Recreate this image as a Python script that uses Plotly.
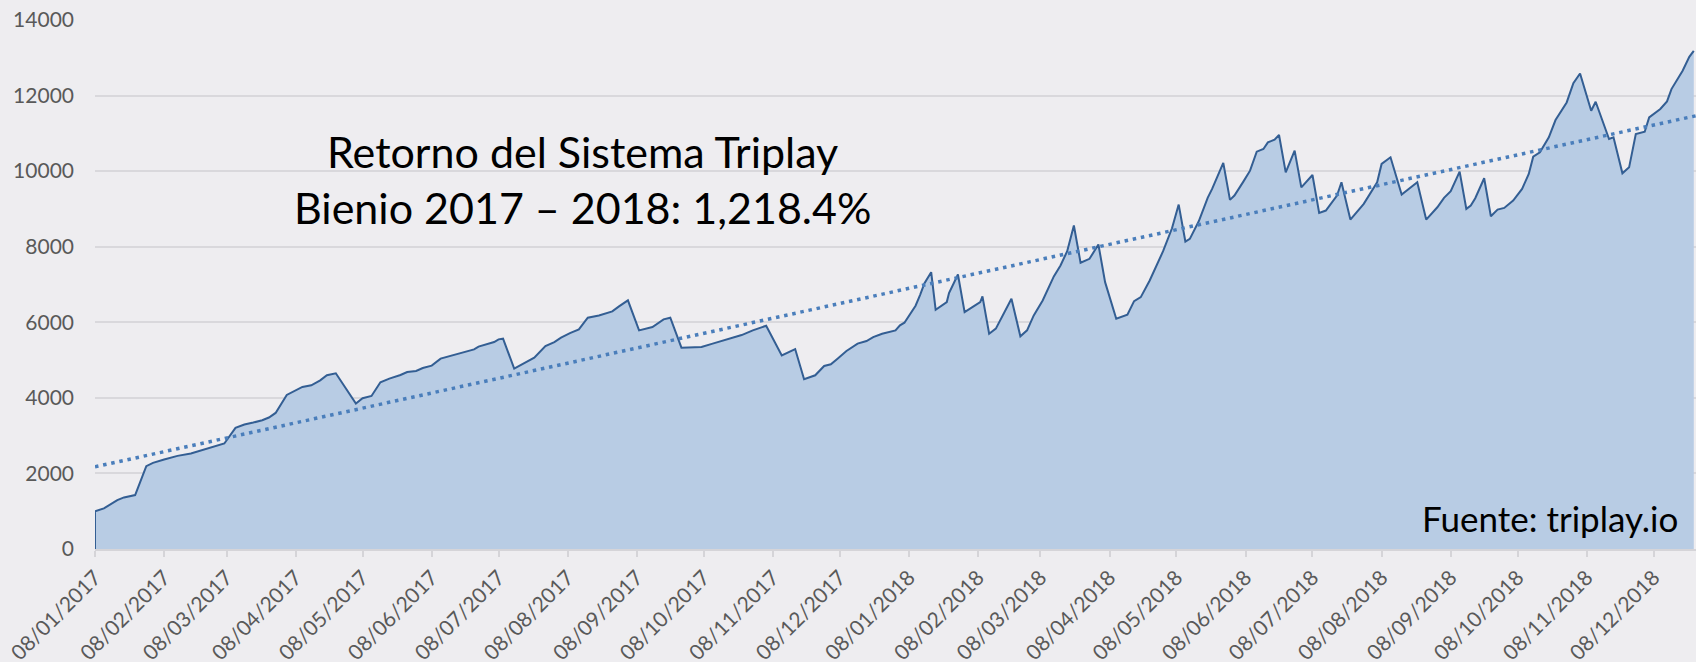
import pandas as pd
import plotly.graph_objects as go

start_date = "2017-01-08"

days_since_start = [
    0, 0, 4, 7, 10, 13, 18, 23, 26, 31, 37, 43, 49, 53, 58, 63, 67, 71, 75, 78,
    81, 86, 90, 93, 97, 101, 104, 108, 117, 120, 124, 128, 132, 137, 140, 144, 147, 151, 155, 161,
    165, 170, 172, 176, 179, 181, 183, 188, 192, 197, 202, 206, 209, 213, 217, 221, 226, 230, 232, 235,
    239, 244, 250, 255, 258, 263, 272, 277, 282, 286, 290, 295, 301, 308, 314, 318, 323, 327, 330, 333,
    337, 342, 346, 349, 353, 359, 361, 363, 366, 368, 370, 372, 375, 377, 382, 383, 387, 390, 394, 397,
    398, 401, 404, 411, 415, 418, 421, 425, 430, 433, 436, 439, 442, 446, 450, 453, 458, 463, 466, 469,
    473, 475, 479, 483, 486, 489, 491, 495, 499, 501, 506, 509, 511, 515, 518, 521, 524, 526, 529, 531,
    534, 538, 541, 546, 549, 552, 554, 557, 559, 563, 569, 572, 575, 577, 581, 586, 593, 597, 602, 605,
    608, 612, 615, 617, 619, 623, 626, 629, 632, 636, 640, 643, 645, 648, 652, 655, 660, 663, 666, 671,
    673, 679, 681, 685, 688, 691, 695, 697, 702, 705, 707, 712, 715, 717,
]

balance = [
    0, 1000, 1075, 1190, 1295, 1365, 1427, 2193, 2280, 2370, 2465, 2528, 2634, 2721, 2792, 3205, 3294, 3347, 3408, 3479,
    3601, 4077, 4201, 4288, 4333, 4465, 4597, 4650, 3849, 3990, 4050, 4412, 4510, 4605, 4685, 4711, 4790, 4853, 5038, 5144,
    5213, 5284, 5355, 5416, 5477, 5548, 5566, 4773, 4906, 5064, 5371, 5477, 5593, 5715, 5813, 6122, 6182, 6261, 6288, 6420,
    6579, 5786, 5873, 6077, 6122, 5329, 5346, 5435, 5522, 5609, 5662, 5786, 5910, 5125, 5292, 4491, 4597, 4843, 4888, 5038,
    5239, 5435, 5504, 5609, 5697, 5786, 5918, 5989, 6253, 6438, 6720, 7035, 7326, 6332, 6535, 6772, 7265, 6270, 6420, 6535,
    6684, 5698, 5831, 6623, 5628, 5786, 6182, 6579, 7213, 7503, 7881, 8560, 7575, 7680, 8058, 7062, 6095, 6200, 6561, 6666,
    7107, 7371, 7881, 8489, 9115, 8137, 8208, 8674, 9292, 9530, 10217, 9239, 9353, 9723, 10013, 10515, 10587, 10761, 10833, 10956,
    9968, 10542, 9572, 9899, 8896, 8957, 9115, 9353, 9705, 8719, 9133, 9424, 9705, 10190, 10366, 9379, 9705, 8719, 9044, 9292,
    9468, 9987, 9001, 9089, 9282, 9811, 8806, 8983, 9027, 9221, 9530, 9926, 10383, 10497, 10894, 11353, 11818, 12329, 12584, 11599,
    11836, 10851, 10894, 9942, 10101, 10983, 11044, 11422, 11644, 11845, 12172, 12656, 13025, 13184,
]

trend_days = [0, 718]
trend_values = [2175, 11466]

title_lines = ["Retorno del Sistema Triplay", "Bienio 2017 – 2018: 1,218.4%"]
source_text = "Fuente: triplay.io"

base = pd.Timestamp(start_date)
dates = [base + pd.Timedelta(days=d) for d in days_since_start]
trend_dates = [base + pd.Timedelta(days=d) for d in trend_days]

BG = "#EEEDF0"
FONT = "Lato"

fig = go.Figure()
fig.add_trace(go.Scatter(
    x=dates, y=balance, mode="lines", fill="tozeroy",
    fillcolor="#B8CCE4", line=dict(color="#335E93", width=2),
    hoverinfo="x+y", showlegend=False,
))
fig.add_trace(go.Scatter(
    x=trend_dates, y=trend_values, mode="lines",
    line=dict(color="#4A7EBB", width=3.5, dash="3.5px,4.8px"),
    showlegend=False,
))

fig.add_annotation(
    text="<br>".join(title_lines), xref="paper", yref="paper",
    x=(582 - 95) / 1601, y=(549 - 179) / 529, xanchor="center", yanchor="middle",
    showarrow=False, align="center",
    font=dict(family=FONT, size=43, color="#000000"),
)
fig.add_annotation(
    text=source_text, xref="paper", yref="paper",
    x=(1680 - 95) / 1601, y=(549 - 518) / 529, xanchor="right", yanchor="middle",
    showarrow=False, font=dict(family=FONT, size=35, color="#000000"),
)

fig.update_layout(
    width=1696, height=662,
    margin=dict(l=95, r=0, t=20, b=113, autoexpand=False),
    paper_bgcolor=BG, plot_bgcolor=BG,
    font=dict(family=FONT, size=21, color="#595959"),
    xaxis=dict(
        type="date", automargin=False,
        range=[base, base + pd.Timedelta(days=718)],
        tick0=start_date, dtick="M1", tickformat="%d/%m/%Y",
        tickangle=-45, showgrid=False, zeroline=False,
        showline=True, linecolor="#D5D4D8", linewidth=2,
        ticks="outside", ticklen=6, tickcolor="#D5D4D8", tickwidth=2,
        tickfont=dict(family=FONT, size=21, color="#595959"),
    ),
    yaxis=dict(
        automargin=False,
        range=[0, 14000], dtick=2000, tick0=0, tickformat="d",
        showgrid=True, gridcolor="#D9D8DC", gridwidth=2,
        zeroline=False, showline=False, ticks="",
        tickfont=dict(family=FONT, size=21, color="#595959"),
        ticklabelstandoff=20,
    ),
)

fig.write_html(
    "out.html",
    config={"displayModeBar": False},
    post_script="document.body.style.margin='0';document.body.style.overflow='hidden';",
)
